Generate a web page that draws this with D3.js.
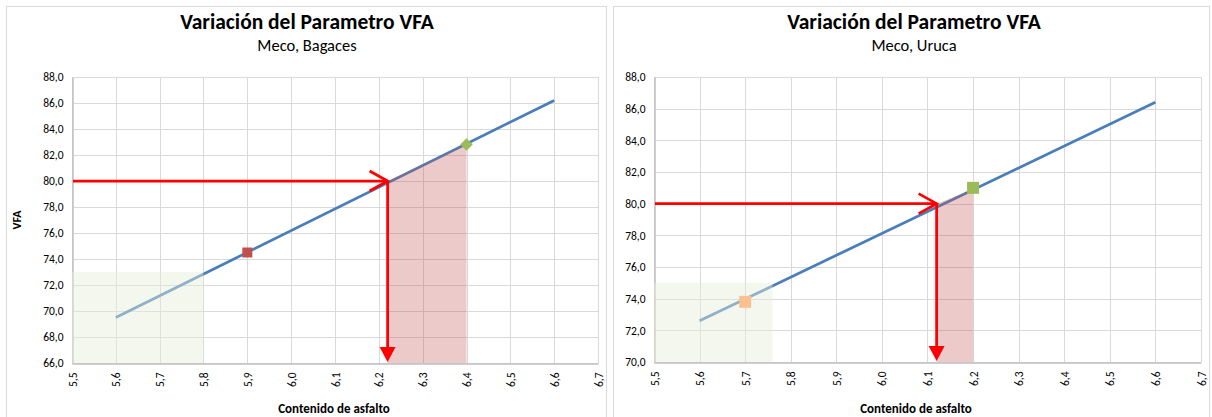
<!DOCTYPE html>
<html>
<head>
<meta charset="utf-8">
<script src="https://cdn.jsdelivr.net/npm/d3@7"></script>
<style>
  body { margin: 0; background: #fff; }
  svg text { font-family: Carlito, Calibri, Lato, "Liberation Sans", sans-serif; fill: #000; }
</style>
</head>
<body>
<svg id="chart" width="1212" height="417"></svg>
<script>
// ---- data ----
const chartTitle = "Variación del Parametro VFA";
const subtitles = ["Meco, Bagaces", "Meco, Uruca"];
const xAxisTitle = "Contenido de asfalto";
const yAxisTitle = "VFA";

const xTickValues = [5.5, 5.6, 5.7, 5.8, 5.9, 6.0, 6.1, 6.2, 6.3, 6.4, 6.5, 6.6, 6.7];
const bagacesYTicks = [66, 68, 70, 72, 74, 76, 78, 80, 82, 84, 86, 88];
const urucaYTicks = [70, 72, 74, 76, 78, 80, 82, 84, 86, 88];

// trend line end points: [asphalt content, VFA]
const bagacesTrend = [[5.6, 69.5], [6.6, 86.2]];
const urucaTrend = [[5.6, 72.6], [6.6, 86.4]];

// measured points: [asphalt content, VFA]
const bagacesPoints = [[5.9, 74.5], [6.4, 82.8]];
const urucaPoints = [[5.7, 73.8], [6.2, 81.0]];

// zone below the VFA limit: asphalt range and VFA range
const bagacesLowX = [5.5, 5.8];
const bagacesLowY = [66, 73];
const urucaLowX = [5.5, 5.76];
const urucaLowY = [70, 75];

// design VFA and resulting asphalt content
const designVfa = 80;
const bagacesDesignAsphalt = 6.22;
const urucaDesignAsphalt = 6.12;

// accepted range along the trend line
const bagacesRange = [[6.22, 80.0], [6.4, 82.8]];
const urucaRange = [[6.12, 80.0], [6.2, 80.9]];

// ---- drawing ----
const fmt = d3.formatLocale({ decimal: ",", thousands: ".", grouping: [3], currency: ["", ""] }).format(".1f");
const svg = d3.select("#chart");

// Excel-style diamond: a square turned 45 degrees
const diamond = { draw(ctx, size) { const r = Math.sqrt(size) / 1.6; ctx.moveTo(0, -r); ctx.lineTo(r, 0); ctx.lineTo(0, r); ctx.lineTo(-r, 0); ctx.closePath(); } };

const charts = [
  {
    subtitle: subtitles[0], yTicks: bagacesYTicks, trend: bagacesTrend, points: bagacesPoints,
    pointStyles: [{ shape: d3.symbolSquare, size: 100, color: "#C0504D" }, { shape: diamond, size: 100, color: "#9BBB59" }],
    lowX: bagacesLowX, lowY: bagacesLowY, designX: bagacesDesignAsphalt, range: bagacesRange,
    panel: { x: 6.5, y: 6.5, w: 600, h: 430 }, plot: { l: 72, r: 598, t: 77, b: 363 },
    titleX: 307, xTitleX: 334, showYTitle: true
  },
  {
    subtitle: subtitles[1], yTicks: urucaYTicks, trend: urucaTrend, points: urucaPoints,
    pointStyles: [{ shape: d3.symbolSquare, size: 144, color: "#FAC090" }, { shape: d3.symbolSquare, size: 144, color: "#9BBB59" }],
    lowX: urucaLowX, lowY: urucaLowY, designX: urucaDesignAsphalt, range: urucaRange,
    panel: { x: 613.5, y: 6.5, w: 596, h: 430 }, plot: { l: 654, r: 1201, t: 77, b: 362 },
    titleX: 914, xTitleX: 916, showYTitle: false
  }
];

charts.forEach(c => {
  const g = svg.append("g");
  const p = c.plot;

  g.append("rect").attr("x", c.panel.x).attr("y", c.panel.y).attr("width", c.panel.w).attr("height", c.panel.h)
    .attr("fill", "#fff").attr("stroke", "#D9D9D9");

  const x = d3.scaleLinear().domain([xTickValues[0], xTickValues[xTickValues.length - 1]]).range([p.l, p.r]);
  const y = d3.scaleLinear().domain([c.yTicks[0], c.yTicks[c.yTicks.length - 1]]).range([p.b, p.t]);

  // titles
  g.append("text").attr("x", c.titleX).attr("y", 29).attr("text-anchor", "middle")
    .style("font-size", "21.5px").style("font-weight", "bold").text(chartTitle);
  g.append("text").attr("x", c.titleX).attr("y", 51).attr("text-anchor", "middle")
    .style("font-size", "16.5px").text(c.subtitle);

  // grid
  g.append("g").selectAll("line").data(c.yTicks).join("line")
    .attr("x1", p.l).attr("x2", p.r).attr("y1", d => Math.round(y(d)) + 0.5).attr("y2", d => Math.round(y(d)) + 0.5)
    .attr("stroke", "#D9D9D9");
  g.append("g").selectAll("line").data(xTickValues).join("line")
    .attr("x1", d => Math.round(x(d)) + 0.5).attr("x2", d => Math.round(x(d)) + 0.5).attr("y1", p.t).attr("y2", p.b)
    .attr("stroke", "#D9D9D9");

  // axes
  const yAxis = d3.axisLeft(y).tickValues(c.yTicks).tickFormat(fmt).tickSize(0).tickPadding(9);
  const ya = g.append("g").attr("transform", `translate(${p.l + 0.5},0)`).call(yAxis);
  ya.select(".domain").attr("stroke", "#BFBFBF").attr("stroke-width", 1.5);
  ya.selectAll("text").style("font-size", "11.5px").style("font-family", null);

  const xAxis = d3.axisBottom(x).tickValues(xTickValues).tickFormat(fmt).tickSize(0);
  const xa = g.append("g").attr("transform", `translate(0,${p.b + 0.5})`).call(xAxis);
  xa.select(".domain").attr("stroke", "#BFBFBF").attr("stroke-width", 1.5);
  xa.selectAll("text").style("font-size", "11.5px").style("font-family", null)
    .attr("transform", "rotate(-90)").attr("text-anchor", "end")
    .attr("x", -9).attr("y", 0).attr("dy", "0.35em");

  // trend line
  const line = d3.line().x(d => x(d[0])).y(d => y(d[1]));
  g.append("path").datum(c.trend).attr("d", line).attr("fill", "none")
    .attr("stroke", "#4A7EBB").attr("stroke-width", 2.75);

  // zone below the limit
  g.append("rect").attr("x", x(c.lowX[0])).attr("y", y(c.lowY[1]))
    .attr("width", x(c.lowX[1]) - x(c.lowX[0])).attr("height", y(c.lowY[0]) - y(c.lowY[1]))
    .attr("fill", "#E6EED7").attr("fill-opacity", 0.45);

  // accepted range under the trend line
  const yBase = c.yTicks[0];
  const area = d3.area().x(d => x(d[0])).y0(y(yBase)).y1(d => y(d[1]));
  g.append("path").datum(c.range).attr("d", area).attr("fill", "#C0504D").attr("fill-opacity", 0.3);

  // design arrows
  const xi = x(c.designX), yi = y(designVfa);
  g.append("line").attr("x1", p.l + 1).attr("x2", xi).attr("y1", yi).attr("y2", yi)
    .attr("stroke", "#FF0000").attr("stroke-width", 2.75);
  g.append("path").attr("d", `M${xi - 18},${yi - 10}L${xi},${yi}L${xi - 18},${yi + 10}`)
    .attr("fill", "none").attr("stroke", "#FF0000").attr("stroke-width", 2.75);
  g.append("line").attr("x1", xi).attr("x2", xi).attr("y1", yi).attr("y2", p.b - 14)
    .attr("stroke", "#FF0000").attr("stroke-width", 2.75);
  g.append("path").attr("d", `M${xi - 8},${p.b - 16}L${xi + 8},${p.b - 16}L${xi},${p.b - 1}Z`)
    .attr("fill", "#FF0000");

  // measured points
  g.append("g").selectAll("path").data(c.points).join("path")
    .attr("transform", d => `translate(${x(d[0])},${y(d[1])})`)
    .attr("d", (d, i) => d3.symbol().type(c.pointStyles[i].shape).size(c.pointStyles[i].size)())
    .attr("fill", (d, i) => c.pointStyles[i].color);

  // axis titles
  g.append("text").attr("x", c.xTitleX).attr("y", 413).attr("text-anchor", "middle")
    .style("font-size", "13px").style("font-weight", "bold").text(xAxisTitle);
  if (c.showYTitle) {
    g.append("text").attr("transform", `translate(21,${(p.t + p.b) / 2}) rotate(-90)`).attr("text-anchor", "middle")
      .style("font-size", "12px").style("font-weight", "bold").text(yAxisTitle);
  }
});
</script>
</body>
</html>
